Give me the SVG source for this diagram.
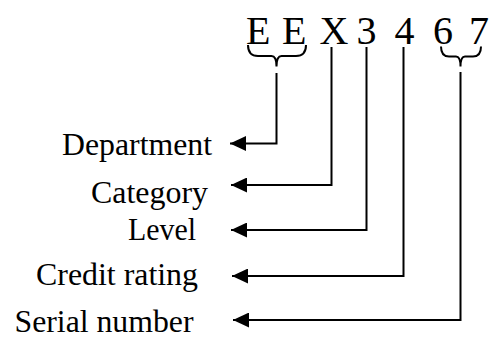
<svg xmlns="http://www.w3.org/2000/svg" width="491" height="338" viewBox="0 0 491 338">
<style>
.big{font-family:"Liberation Serif","Times New Roman",serif;font-size:40px;fill:#000}
.lbl{font-family:"Liberation Serif","Times New Roman",serif;font-size:31px;fill:#000}
.ln{fill:none;stroke:#000;stroke-width:2}
</style>
<defs>
<marker id="ah" markerUnits="userSpaceOnUse" markerWidth="16" markerHeight="15" refX="16" refY="7.5" orient="auto">
<path d="M0,0 L16,7.5 L0,15 Z" fill="#000"/>
</marker>
</defs>
<g id="code">
<text class="big" x="246" y="43.5">E</text>
<text class="big" x="282" y="43.5">E</text>
<text class="big" x="319.5" y="43.5">X</text>
<text class="big" x="356.5" y="43.5">3</text>
<text class="big" x="394.5" y="43.5">4</text>
<text class="big" x="433" y="43.5">6</text>
<text class="big" x="469" y="43.5">7</text>
</g>
<g id="braces">
<path class="ln" d="M248,45 Q248,56 258,56 L271.5,56 Q276.5,56 276.5,66.5 Q276.5,56 281.5,56 L296,56 Q306,56 306,45"/>
<path class="ln" d="M441,46.5 Q441,56.5 449,56.5 L456,56.5 Q460.5,56.5 460.5,66.5 Q460.5,56.5 465,56.5 L473,56.5 Q481,56.5 481,46.5"/>
</g>
<g id="connectors">
<path class="ln" d="M276.5,73 V143.5 H230" marker-end="url(#ah)"/>
<path class="ln" d="M331.5,47 V185 H231" marker-end="url(#ah)"/>
<path class="ln" d="M366.5,47 V230 H231" marker-end="url(#ah)"/>
<path class="ln" d="M403.5,47 V276 H232" marker-end="url(#ah)"/>
<path class="ln" d="M460.5,72 V320 H233" marker-end="url(#ah)"/>
</g>
<g id="department"><text class="lbl" x="62" y="155" textLength="150" lengthAdjust="spacingAndGlyphs">Department</text></g>
<g id="category"><text class="lbl" x="91" y="202.5" textLength="117" lengthAdjust="spacingAndGlyphs">Category</text></g>
<g id="level"><text class="lbl" x="128" y="239.5" textLength="68" lengthAdjust="spacingAndGlyphs">Level</text></g>
<g id="credit"><text class="lbl" x="36" y="285" textLength="162" lengthAdjust="spacingAndGlyphs">Credit rating</text></g>
<g id="serial"><text class="lbl" x="14.5" y="332" textLength="179" lengthAdjust="spacingAndGlyphs">Serial number</text></g>
</svg>
